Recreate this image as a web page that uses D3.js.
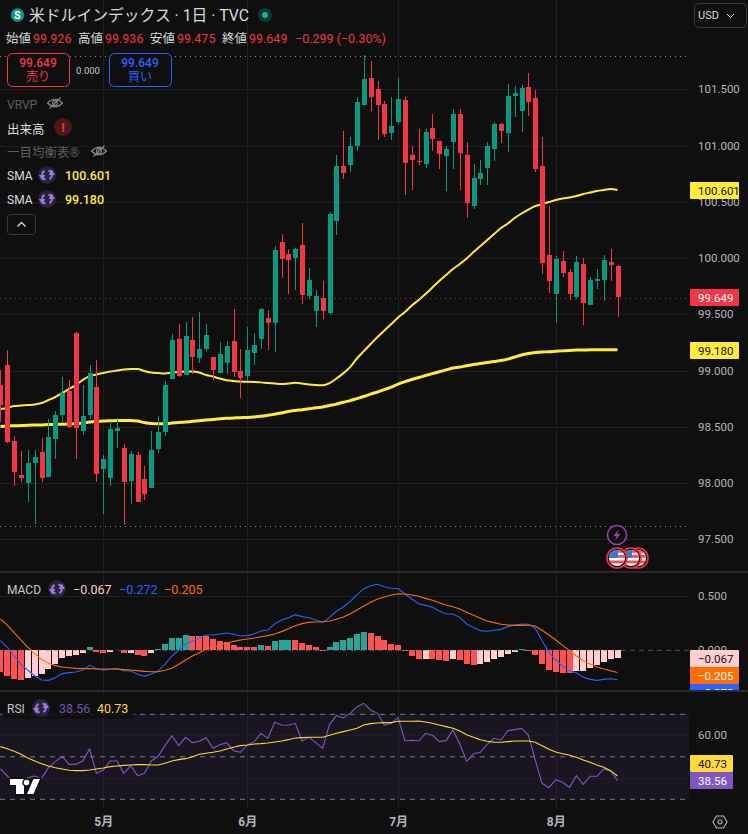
<!DOCTYPE html>
<html lang="ja">
<head>
<meta charset="utf-8">
<script src="https://cdn.jsdelivr.net/npm/d3@7"></script>
<style>
  html, body { margin: 0; background: #0f0f0f; overflow: hidden; }
  text { font-family: Roboto, 'Noto Sans CJK JP', sans-serif; }
</style>
</head>
<body>
<div class="canvas"></div>
<script>
const monthIndex = [15, 36, 58, 81];
const monthLabels = ['5月', '6月', '7月', '8月'];
const priceTicks = [97.5, 98, 98.5, 99, 99.5, 100, 100.5, 101, 101.5];
const macdTicks = [0, 0.5];
const rsiTicks = [60];

const open = [
  98.862, 99.04, 98.364, 98.062, 97.994, 98.169, 98.267, 98.047, 98.385, 98.596,
  98.809, 99.324, 98.456, 98.596, 98.844, 98.118, 98.038, 98.456, 98.302, 98.012,
  98.24, 98.027, 97.949, 98.296, 98.447, 98.918, 99.271, 98.954, 99.262, 99.105,
  99.185, 99.111, 98.972, 99.058, 99.253, 98.987, 98.945, 99.149, 99.274, 99.458,
  99.416, 100.133, 100.027, 99.994, 100.107, 99.656, 99.523, 99.636, 99.505, 100.32,
  100.809, 100.818, 100.987, 101.351, 101.591, 101.493, 101.36, 101.102, 101.2, 101.396,
  100.907, 100.853, 100.827, 101.147, 101.031, 100.898, 101.022, 101.271, 100.907, 100.453,
  100.693, 100.791, 100.96, 101.182, 101.102, 101.431, 101.298, 101.511, 101.413, 100.809,
  100.018, 99.671, 99.964, 99.867, 99.644, 99.938, 99.573, 99.789, 99.796, 99.956,
  99.92
];
const high = [
  98.996, 99.173, 98.409, 98.276, 98.284, 98.284, 98.391, 98.56, 98.631, 98.933,
  98.907, 99.333, 98.862, 99.04, 99.084, 98.24, 98.524, 98.569, 98.338, 98.276,
  98.267, 98.142, 98.453, 98.587, 98.898, 99.316, 99.404, 99.422, 99.467, 99.511,
  99.404, 99.111, 99.244, 99.253, 99.538, 99.182, 99.378, 99.324, 99.547, 99.529,
  100.098, 100.204, 100.071, 100.08, 100.302, 99.902, 99.707, 99.787, 100.4, 100.907,
  101.12, 101.067, 101.422, 101.796, 101.742, 101.564, 101.387, 101.422, 101.591, 101.422,
  100.987, 101.138, 101.138, 101.271, 101.031, 100.987, 101.316, 101.316, 101.022, 100.827,
  100.862, 101.022, 101.2, 101.191, 101.538, 101.52, 101.529, 101.636, 101.484, 101.067,
  100.453, 100.009, 100.053, 99.893, 100.009, 99.991, 99.822, 99.893, 100.018, 100.071,
  99.929
];
const low = [
  98.536, 98.35, 97.967, 98.003, 97.825, 97.627, 98.003, 98.047, 98.207, 98.524,
  98.483, 98.207, 98.418, 98.56, 98.003, 97.718, 97.967, 98.305, 97.618, 97.807,
  97.825, 97.843, 97.949, 98.26, 98.411, 98.918, 98.936, 98.954, 98.963, 99.06,
  99.167, 98.909, 98.972, 98.963, 98.936, 98.749, 98.909, 99.043, 99.185, 99.176,
  99.158, 99.816, 99.674, 99.709, 99.585, 99.629, 99.38, 99.452, 99.487, 100.196,
  100.693, 100.756, 100.942, 101.351, 101.298, 101.04, 101.067, 101.04, 101.182, 100.551,
  100.596, 100.818, 100.791, 100.942, 100.782, 100.587, 100.782, 100.596, 100.347, 100.427,
  100.64, 100.64, 100.853, 101.013, 100.933, 101.244, 101.111, 101.253, 100.756, 99.849,
  99.68, 99.413, 99.822, 99.618, 99.627, 99.396, 99.573, 99.716, 99.609, 99.787,
  99.467
];
const close = [
  98.684, 98.358, 98.092, 98.038, 98.169, 98.222, 98.038, 98.4, 98.596, 98.791,
  98.489, 98.483, 98.587, 98.969, 98.074, 98.204, 98.471, 98.483, 98.003, 98.249,
  97.825, 97.896, 98.284, 98.444, 98.862, 99.262, 98.945, 99.298, 99.114, 99.182,
  99.307, 98.998, 99.138, 99.209, 98.98, 98.927, 99.173, 99.218, 99.538, 99.416,
  100.062, 99.985, 99.976, 100.071, 99.665, 99.796, 99.653, 99.523, 100.382, 100.809,
  100.747, 100.987, 101.378, 101.582, 101.422, 101.351, 101.093, 101.164, 101.404, 100.836,
  100.862, 100.847, 101.111, 101.049, 100.916, 100.96, 101.271, 100.924, 100.48, 100.702,
  100.747, 100.987, 101.182, 101.12, 101.431, 101.458, 101.502, 101.378, 100.782, 99.947,
  99.787, 99.982, 99.858, 99.671, 99.956, 99.591, 99.796, 99.804, 99.973, 99.929,
  99.647
];
const smaFast = [
  98.649, 98.658, 98.676, 98.68, 98.684, 98.689, 98.702, 98.729, 98.756, 98.791,
  98.827, 98.862, 98.907, 98.942, 98.956, 98.969, 98.982, 98.991, 99.0, 99.004,
  99.004, 98.987, 98.973, 98.969, 98.966, 98.973, 98.978, 98.982, 98.982, 98.973,
  98.951, 98.938, 98.92, 98.904, 98.898, 98.893, 98.891, 98.889, 98.886, 98.88,
  98.876, 98.871, 98.876, 98.883, 98.876, 98.867, 98.862, 98.86, 98.88, 98.92,
  98.966, 99.022, 99.098, 99.164, 99.227, 99.289, 99.347, 99.404, 99.462, 99.511,
  99.569, 99.618, 99.671, 99.729, 99.787, 99.84, 99.893, 99.938, 99.987, 100.044,
  100.098, 100.151, 100.204, 100.258, 100.298, 100.347, 100.387, 100.422, 100.453, 100.471,
  100.489, 100.507, 100.52, 100.529, 100.542, 100.56, 100.573, 100.587, 100.596, 100.606,
  100.596
];
const smaSlow = [
  98.493, 98.498, 98.5, 98.502, 98.505, 98.507, 98.508, 98.511, 98.512, 98.514,
  98.516, 98.52, 98.524, 98.533, 98.54, 98.542, 98.544, 98.547, 98.548, 98.548,
  98.542, 98.529, 98.52, 98.518, 98.518, 98.524, 98.529, 98.533, 98.54, 98.545,
  98.551, 98.557, 98.563, 98.567, 98.569, 98.572, 98.574, 98.578, 98.584, 98.593,
  98.603, 98.613, 98.627, 98.636, 98.643, 98.651, 98.66, 98.667, 98.68, 98.693,
  98.709, 98.724, 98.742, 98.76, 98.782, 98.8, 98.822, 98.844, 98.871, 98.893,
  98.911, 98.929, 98.947, 98.964, 98.98, 98.997, 99.013, 99.022, 99.034, 99.044,
  99.053, 99.062, 99.071, 99.08, 99.093, 99.111, 99.129, 99.142, 99.151, 99.156,
  99.158, 99.162, 99.166, 99.17, 99.173, 99.174, 99.175, 99.176, 99.177, 99.177,
  99.176
];
const macdHist = [
  -0.201, -0.241, -0.269, -0.278, -0.256, -0.241, -0.222, -0.176, -0.127, -0.074,
  -0.056, -0.044, -0.028, 0.028, -0.019, -0.028, -0.019, 0.005, -0.028, -0.024,
  -0.046, -0.056, -0.028, 0.012, 0.056, 0.111, 0.114, 0.139, 0.137, 0.13,
  0.128, 0.102, 0.083, 0.074, 0.046, 0.03, 0.028, 0.026, 0.046, 0.044,
  0.083, 0.097, 0.099, 0.097, 0.065, 0.046, 0.028, -0.009, 0.028, 0.074,
  0.093, 0.111, 0.148, 0.167, 0.157, 0.13, 0.093, 0.056, 0.046, -0.009,
  -0.056, -0.083, -0.081, -0.083, -0.093, -0.102, -0.083, -0.093, -0.13, -0.132,
  -0.13, -0.111, -0.083, -0.065, -0.037, -0.019, 0.009, -0.009, -0.046, -0.13,
  -0.185, -0.204, -0.206, -0.213, -0.194, -0.192, -0.167, -0.139, -0.111, -0.083,
  -0.067
];
const macdLine = [
  0.089, 0.028, -0.053, -0.13, -0.185, -0.235, -0.275, -0.278, -0.253, -0.216,
  -0.207, -0.201, -0.182, -0.139, -0.17, -0.185, -0.176, -0.17, -0.188, -0.192,
  -0.222, -0.241, -0.219, -0.192, -0.13, -0.053, 0.003, 0.058, 0.086, 0.111,
  0.142, 0.142, 0.151, 0.16, 0.148, 0.133, 0.136, 0.151, 0.179, 0.188,
  0.244, 0.281, 0.302, 0.33, 0.312, 0.302, 0.281, 0.259, 0.305, 0.361,
  0.401, 0.45, 0.515, 0.571, 0.598, 0.611, 0.589, 0.574, 0.571, 0.521,
  0.475, 0.432, 0.416, 0.398, 0.364, 0.336, 0.336, 0.305, 0.244, 0.21,
  0.182, 0.176, 0.185, 0.194, 0.219, 0.234, 0.244, 0.241, 0.204, 0.089,
  -0.019, -0.09, -0.145, -0.192, -0.207, -0.25, -0.269, -0.278, -0.269, -0.263,
  -0.272
];
const macdSignal = [
  0.29, 0.234, 0.163, 0.095, 0.028, -0.031, -0.084, -0.121, -0.142, -0.155,
  -0.161, -0.167, -0.17, -0.17, -0.173, -0.173, -0.173, -0.173, -0.179, -0.182,
  -0.188, -0.195, -0.198, -0.198, -0.185, -0.167, -0.13, -0.09, -0.053, -0.022,
  0.012, 0.031, 0.049, 0.065, 0.083, 0.095, 0.105, 0.114, 0.126, 0.136,
  0.151, 0.173, 0.2, 0.228, 0.247, 0.259, 0.262, 0.265, 0.271, 0.287,
  0.308, 0.336, 0.373, 0.41, 0.444, 0.475, 0.494, 0.512, 0.524, 0.521,
  0.512, 0.5, 0.481, 0.463, 0.441, 0.42, 0.404, 0.382, 0.352, 0.324,
  0.296, 0.271, 0.256, 0.241, 0.234, 0.231, 0.231, 0.234, 0.225, 0.185,
  0.142, 0.095, 0.046, -0.004, -0.053, -0.096, -0.127, -0.155, -0.173, -0.189,
  -0.205
];
const rsiLine = [
  44.03, 40.73, 37.75, 35.71, 39.95, 40.73, 39.63, 44.65, 47.48, 49.99,
  46.22, 46.22, 47.79, 53.44, 41.99, 43.56, 47.79, 47.79, 41.99, 45.6,
  40.89, 41.99, 47.79, 49.99, 55.01, 59.71, 55.01, 58.93, 56.42, 57.05,
  58.77, 53.75, 55.48, 56.42, 52.65, 51.87, 55.32, 56.89, 60.81, 58.46,
  65.99, 64.73, 64.58, 65.52, 57.2, 58.93, 56.42, 53.75, 65.05, 69.12,
  68.03, 70.22, 73.36, 74.93, 71.79, 70.22, 64.73, 65.52, 68.18, 57.2,
  57.52, 57.2, 60.81, 59.87, 57.05, 57.36, 62.38, 55.79, 47.63, 51.24,
  51.87, 55.63, 58.46, 57.67, 62.07, 62.54, 63.16, 60.03, 48.26, 37.28,
  35.24, 39.01, 37.75, 35.4, 40.89, 36.81, 40.58, 40.58, 44.03, 43.09,
  38.56
];
const rsiMa = [
  54.54, 53.6, 52.34, 50.93, 49.2, 47.79, 46.54, 45.44, 44.65, 44.03,
  43.4, 43.24, 43.24, 43.56, 44.03, 44.5, 45.13, 45.44, 45.75, 45.91,
  46.07, 46.07, 45.91, 45.91, 46.69, 47.79, 48.42, 48.89, 49.83, 50.93,
  51.4, 51.87, 52.5, 53.44, 54.22, 55.01, 55.32, 55.79, 55.95, 56.26,
  56.73, 57.2, 57.83, 58.61, 58.77, 58.93, 58.93, 58.93, 59.87, 60.81,
  61.6, 62.38, 63.16, 64.73, 65.36, 65.67, 65.83, 65.83, 66.46, 66.46,
  66.46, 66.61, 66.14, 65.52, 64.73, 63.95, 63.16, 61.91, 60.18, 58.93,
  57.83, 57.05, 56.58, 56.58, 56.89, 57.2, 57.2, 57.2, 56.58, 55.01,
  53.28, 52.03, 51.24, 50.46, 49.52, 48.26, 47.16, 45.91, 44.81, 43.24,
  40.73
];

const W = 748;
const H = 834;
const plotRight = 689;
const axisLeft = 690;
const bg = '#0f0f0f';
const upColor = '#089981';
const downColor = '#f23645';
const gridColor = '#1f1f1f';
const axisText = '#b2b5be';
const smaColor = '#ffeb3b';
const macdBlue = '#2962ff';
const macdOrange = '#ff6d00';
const rsiPurple = '#7e57c2';
const rsiYellow = '#fdd835';

const svg = d3
  .select('.canvas')
  .append('svg')
  .attr('width', W)
  .attr('height', H)
  .style('display', 'block');

const defs = svg.append('defs');

svg.append('rect').attr('width', W).attr('height', H).attr('fill', bg);

const x = d3.scaleLinear().domain([0, open.length - 1]).range([0.45, 617.5]);
const yPrice = d3.scaleLinear().domain([97.5, 101.5]).range([539.3, 89.3]);
const yMacd = d3.scaleLinear().domain([0, 0.5]).range([650.3, 596.3]);
const yRsi = d3.scaleLinear().domain([30, 70]).range([798.8, 713.8]);

const bars = open.map((o, i) => ({ i, o, h: high[i], l: low[i], c: close[i] }));

// vertical month lines run through all three panes
const vGrid = svg.append('g');
vGrid
  .selectAll('line')
  .data(monthIndex)
  .enter()
  .append('line')
  .attr('x1', (d) => Math.round(x(d)) + 0.5)
  .attr('x2', (d) => Math.round(x(d)) + 0.5)
  .attr('y1', 0)
  .attr('y2', 808)
  .attr('stroke', gridColor);

const drawGrid = (scale, ticks) => {
  const g = svg
    .append('g')
    .call(d3.axisLeft(scale).tickValues(ticks).tickSize(-plotRight).tickFormat(''));
  g.select('.domain').remove();
  g.selectAll('line').attr('stroke', gridColor).attr('shape-rendering', 'crispEdges');
};

const drawAxis = (scale, ticks, fmt) => {
  const g = svg
    .append('g')
    .attr('transform', `translate(${axisLeft}, 0)`)
    .call(d3.axisRight(scale).tickValues(ticks).tickSize(0).tickPadding(8).tickFormat(fmt));
  g.select('.domain').remove();
  g.selectAll('text')
    .attr('fill', axisText)
    .attr('font-size', 11.5)
    .style('font-family', 'Roboto, sans-serif');
};

drawGrid(yPrice, priceTicks);
drawGrid(yMacd, [0.5]);

const dotted = (y, color, opacity = 1) =>
  svg
    .append('line')
    .attr('x1', 0)
    .attr('x2', plotRight)
    .attr('y1', y)
    .attr('y2', y)
    .attr('stroke', color)
    .attr('stroke-opacity', opacity)
    .attr('stroke-dasharray', '1,4');

dotted(Math.round(yPrice(d3.max(high))) + 0.5, '#8a8d96');
dotted(Math.round(yPrice(d3.min(low))) + 0.5, '#8a8d96');

const priceMarks = svg.append('g').attr('transform', 'translate(0, -1)');

const smaPath = (values) =>
  d3
    .line()
    .x((d, i) => x(i))
    .y((d) => yPrice(d))
    .curve(d3.curveMonotoneX)(values);

priceMarks
  .append('path')
  .attr('d', smaPath(smaFast))
  .attr('fill', 'none')
  .attr('stroke', smaColor)
  .attr('stroke-width', 2);

priceMarks
  .append('path')
  .attr('d', smaPath(smaSlow))
  .attr('fill', 'none')
  .attr('stroke', smaColor)
  .attr('stroke-width', 3);

const candle = priceMarks
  .selectAll('.candle')
  .data(bars)
  .enter()
  .append('g')
  .attr('class', 'candle')
  .attr('fill', (d) => (d.c >= d.o ? upColor : downColor))
  .attr('shape-rendering', 'crispEdges');

candle
  .append('rect')
  .attr('x', (d) => Math.round(x(d.i)))
  .attr('width', 1)
  .attr('y', (d) => yPrice(d.h))
  .attr('height', (d) => yPrice(d.l) - yPrice(d.h));

candle
  .append('rect')
  .attr('x', (d) => Math.round(x(d.i)) - 2)
  .attr('width', 5)
  .attr('y', (d) => yPrice(Math.max(d.o, d.c)))
  .attr('height', (d) => Math.max(1, Math.abs(yPrice(d.o) - yPrice(d.c))));

dotted(Math.round(yPrice(99.649)) + 0.5, downColor, 0.75);

// MACD pane
const histColor = (d, i) => {
  if (i === 0) return '#ff5252';
  const rising = d > macdHist[i - 1];
  if (d >= 0) return rising ? '#26a69a' : '#ff5252';
  return rising ? '#ffcdd2' : '#ff5252';
};

svg
  .append('g')
  .selectAll('rect')
  .data(macdHist)
  .enter()
  .append('rect')
  .attr('x', (d, i) => Math.round(x(i)) - 3)
  .attr('width', 6)
  .attr('y', (d) => Math.min(yMacd(d), yMacd(0)))
  .attr('height', (d) => Math.abs(yMacd(d) - yMacd(0)))
  .attr('fill', histColor)
  .attr('shape-rendering', 'crispEdges');

svg
  .append('line')
  .attr('x1', 0)
  .attr('x2', plotRight)
  .attr('y1', yMacd(0))
  .attr('y2', yMacd(0))
  .attr('stroke', '#787b86')
  .attr('stroke-opacity', 0.6)
  .attr('stroke-dasharray', '5,4');

const indicatorLine = (scale, values, color) =>
  svg
    .append('path')
    .attr(
      'd',
      d3
        .line()
        .x((d, i) => x(i))
        .y((d) => scale(d))(values)
    )
    .attr('fill', 'none')
    .attr('stroke', color)
    .attr('stroke-width', 1.1);

indicatorLine(yMacd, macdLine, macdBlue);
indicatorLine(yMacd, macdSignal, macdOrange);

// RSI pane
svg
  .append('rect')
  .attr('x', 0)
  .attr('width', plotRight)
  .attr('y', yRsi(70))
  .attr('height', yRsi(30) - yRsi(70))
  .attr('fill', rsiPurple)
  .attr('fill-opacity', 0.1);

drawGrid(yRsi, [40, 60]);

const rsiDash = svg
  .append('g')
  .call(d3.axisLeft(yRsi).tickValues([30, 50, 70]).tickSize(-plotRight).tickFormat(''));
rsiDash.select('.domain').remove();
rsiDash.selectAll('line').attr('stroke', '#787b86').attr('stroke-dasharray', '5,5');

// faint fill where RSI goes over 70
svg
  .append('path')
  .attr(
    'd',
    d3
      .area()
      .x((d, i) => x(i))
      .y0(yRsi(70))
      .y1((d) => Math.min(yRsi(d), yRsi(70)))(rsiLine)
  )
  .attr('fill', '#4caf50')
  .attr('fill-opacity', 0.1);

indicatorLine(yRsi, rsiLine, rsiPurple);
indicatorLine(yRsi, rsiMa, rsiYellow);

const priceFmt = d3.format('.3f');
drawAxis(yPrice, priceTicks, priceFmt);
drawAxis(yMacd, macdTicks, priceFmt);
drawAxis(yRsi, rsiTicks, d3.format('.2f'));

const timeAxis = svg
  .append('g')
  .attr('transform', 'translate(0, 808)')
  .call(
    d3
      .axisBottom(x)
      .tickValues(monthIndex)
      .tickSize(0)
      .tickPadding(9)
      .tickFormat((d, i) => monthLabels[i])
  );
timeAxis.select('.domain').remove();
timeAxis
  .selectAll('text')
  .attr('fill', axisText)
  .attr('font-size', 12)
  .attr('font-weight', 700);

// axis tags, the MACD ones stop at the pane edge
defs
  .append('clipPath')
  .attr('id', 'macd-tags')
  .append('rect')
  .attr('x', axisLeft)
  .attr('y', 640)
  .attr('width', 60)
  .attr('height', 51);

const tagLayer = svg.append('g');
const macdTagLayer = svg.append('g').attr('clip-path', 'url(#macd-tags)');

const tag = (layer, y, text, fill, color, right = 739) => {
  layer
    .append('rect')
    .attr('x', axisLeft)
    .attr('y', y)
    .attr('width', right - axisLeft)
    .attr('height', 17)
    .attr('rx', 1)
    .attr('fill', fill);
  layer
    .append('text')
    .attr('x', 698)
    .attr('y', y + 12.5)
    .attr('fill', color)
    .attr('font-size', 11.5)
    .text(text);
};

tag(tagLayer, 182, '100.601', '#ffeb3b', '#131313');
tag(tagLayer, 289, '99.649', downColor, '#ffffff');
tag(tagLayer, 342, '99.180', '#ffeb3b', '#131313');
tag(macdTagLayer, 650, '−0.067', '#ffcdd2', '#131313');
tag(macdTagLayer, 667, '−0.205', macdOrange, '#ffffff');
tag(macdTagLayer, 684, '−0.272', macdBlue, '#ffffff');
tag(tagLayer, 755, '40.73', '#ffd83b', '#131313', 733);
tag(tagLayer, 772, '38.56', rsiPurple, '#ffffff', 733);

// pane separators
[572, 691].forEach((y) => {
  svg
    .append('line')
    .attr('x1', 0)
    .attr('x2', W)
    .attr('y1', y)
    .attr('y2', y)
    .attr('stroke', '#2a2a2a')
    .attr('stroke-width', 2);
});

// legend text
const label = (px, py, text, color, size = 12, weight = 400, anchor = 'start') =>
  svg
    .append('text')
    .attr('x', px)
    .attr('y', py)
    .attr('fill', color)
    .attr('font-size', size)
    .attr('font-weight', weight)
    .attr('text-anchor', anchor)
    .text(text);

const refreshIcon = (cx, cy) => {
  const g = svg.append('g').attr('transform', `translate(${cx}, ${cy})`).attr('fill', '#9b7be0');
  g.append('circle').attr('r', 9).attr('fill', '#2a2238');
  const arc = d3.arc().innerRadius(3.8).outerRadius(5.8);
  g.append('path').attr('d', arc({ startAngle: 0.3, endAngle: 2.6 }));
  g.append('path').attr('d', arc({ startAngle: 3.45, endAngle: 5.75 }));
  g.append('path').attr('d', 'M4.8,-4.6 L8,1 L1.6,1 Z').attr('transform', 'translate(0, -1)');
  g.append('path').attr('d', 'M-4.8,4.6 L-8,-1 L-1.6,-1 Z').attr('transform', 'translate(0, 1)');
};

const eyeOff = (cx, cy, color) => {
  const g = svg
    .append('g')
    .attr('transform', `translate(${cx}, ${cy})`)
    .attr('fill', 'none')
    .attr('stroke', color)
    .attr('stroke-width', 1.1);
  g.append('path').attr('d', 'M-7.5,0 Q0,-7.5 7.5,0 Q0,7.5 -7.5,0 Z');
  g.append('circle').attr('r', 2.4);
  g.append('path').attr('d', 'M-5.5,5.5 L5.5,-5.5');
};

svg.append('circle').attr('cx', 17.5).attr('cy', 15).attr('r', 6.7).attr('fill', upColor);
label(17.5, 19, 'S', '#ffffff', 11, 700, 'middle');
label(29, 21, '米ドルインデックス · 1日 · TVC', '#dbdbdb', 15.8);
svg.append('circle').attr('cx', 265).attr('cy', 15).attr('r', 7).attr('fill', '#0c3b33');
svg.append('circle').attr('cx', 265).attr('cy', 15).attr('r', 3).attr('fill', '#22ab94');

svg
  .append('rect')
  .attr('x', 694.5)
  .attr('y', 3.5)
  .attr('width', 52)
  .attr('height', 24)
  .attr('rx', 4)
  .attr('fill', bg)
  .attr('stroke', '#3a3a3a');
label(698, 19, 'USD', '#dbdbdb', 11, 400);
svg
  .append('path')
  .attr('d', 'M727,14 l3.5,3.5 l3.5,-3.5')
  .attr('fill', 'none')
  .attr('stroke', '#dbdbdb');

const ohlcLabels = ['始値', '高値', '安値', '終値'];
const ohlcValues = ['99.926', '99.936', '99.475', '99.649'];
const ohlcX = [6, 78, 150, 222];
ohlcLabels.forEach((d, i) => {
  label(ohlcX[i], 43, d, '#dbdbdb', 12.5);
  label(ohlcX[i] + 27, 43, ohlcValues[i], downColor, 12.5);
});
label(295, 43, '−0.299 (−0.30%)', downColor, 12.5);

const tradeButton = (bx, color, text) => {
  svg
    .append('rect')
    .attr('x', bx + 0.5)
    .attr('y', 53.5)
    .attr('width', 62)
    .attr('height', 33)
    .attr('rx', 5)
    .attr('fill', bg)
    .attr('stroke', color);
  label(bx + 31, 67, '99.649', color, 12, 500, 'middle');
  label(bx + 31, 81, text, color, 12, 400, 'middle');
};
tradeButton(7, downColor, '売り');
tradeButton(109, macdBlue, '買い');
label(88, 74, '0.000', '#c8c8c8', 9.5, 400, 'middle');

label(7, 109, 'VRVP', '#5e5e5e', 12);
eyeOff(55, 103, '#8a8a8a');
label(7, 134, '出来高', '#dbdbdb', 12.5);
svg.append('circle').attr('cx', 63).attr('cy', 127).attr('r', 9).attr('fill', '#4a181d');
label(63, 132, '!', downColor, 13, 700, 'middle');
label(7, 157, '一目均衡表®', '#5e5e5e', 12.5);
eyeOff(99, 151, '#8a8a8a');
label(7, 180, 'SMA', '#dbdbdb', 12);
refreshIcon(47, 175);
label(65, 180, '100.601', smaColor, 12.5, 500);
label(7, 204, 'SMA', '#dbdbdb', 12);
refreshIcon(47, 199);
label(65, 204, '99.180', smaColor, 12.5, 500);
svg
  .append('rect')
  .attr('x', 7.5)
  .attr('y', 214.5)
  .attr('width', 28)
  .attr('height', 20)
  .attr('rx', 3)
  .attr('fill', bg)
  .attr('stroke', '#3a3a3a');
svg
  .append('path')
  .attr('d', 'M17.5,226.5 l4,-4 l4,4')
  .attr('fill', 'none')
  .attr('stroke', '#dbdbdb')
  .attr('stroke-width', 1.3);

label(7, 594, 'MACD', '#c8c8c8', 12);
refreshIcon(57, 589);
label(73, 594, '−0.067', '#ffcdd2', 12.5);
label(119, 594, '−0.272', macdBlue, 12.5);
label(164, 594, '−0.205', macdOrange, 12.5);

svg.append('rect').attr('x', 2).attr('y', 697).attr('width', 132).attr('height', 22).attr('fill', bg).attr('fill-opacity', 0.85);
label(7, 713, 'RSI', '#c8c8c8', 12);
refreshIcon(41, 708);
label(59, 713, '38.56', '#6f52b5', 12.5);
label(97, 713, '40.73', rsiYellow, 12.5);

// tradingview mark
const logo = svg.append('g').attr('fill', '#ffffff').attr('stroke', bg).attr('stroke-width', 3).attr('paint-order', 'stroke');
logo.append('path').attr('d', 'M10,779 H24 V794 H16 V785 H10 Z');
logo.append('circle').attr('cx', 26.5).attr('cy', 782.5).attr('r', 2.8);
logo.append('path').attr('d', 'M33.5,779 H40 L33.5,794 H27 Z');

// event icons
const bolt = svg.append('g').attr('transform', 'translate(617, 535)');
bolt.append('circle').attr('r', 9.5).attr('fill', bg).attr('stroke', '#9c3fb5').attr('stroke-width', 1.5);
bolt.append('path').attr('d', 'M1.8,-5.5 L-3.5,1 H-0.5 L-1.8,5.5 L3.5,-1 H0.5 Z').attr('fill', '#9c3fb5');

const flag = (cx, cy, id) => {
  defs.append('clipPath').attr('id', id).append('circle').attr('r', 8);
  const g = svg.append('g').attr('transform', `translate(${cx}, ${cy})`);
  g.append('circle').attr('r', 10).attr('fill', bg).attr('stroke', downColor).attr('stroke-width', 1.6);
  const inner = g.append('g').attr('clip-path', `url(#${id})`);
  inner.append('rect').attr('x', -8).attr('y', -8).attr('width', 16).attr('height', 16).attr('fill', '#ffffff');
  [-8, -3, 2.5].forEach((sy) => {
    inner.append('rect').attr('x', -8).attr('y', sy).attr('width', 16).attr('height', 2.8).attr('fill', '#f0505f');
  });
  inner.append('rect').attr('x', -8).attr('y', -8).attr('width', 9).attr('height', 8).attr('fill', '#2f7fd6');
};
flag(638, 558, 'flag3');
flag(631, 558, 'flag2');
flag(617, 558, 'flag1');

// settings hexagon
const gear = svg.append('g').attr('transform', 'translate(720, 822)').attr('fill', 'none').attr('stroke', '#b2b5be').attr('stroke-width', 1.2);
gear.append('path').attr('d', 'M-7,0 L-3.5,-6 H3.5 L7,0 L3.5,6 H-3.5 Z');
gear.append('circle').attr('r', 2);
</script>
</body>
</html>
